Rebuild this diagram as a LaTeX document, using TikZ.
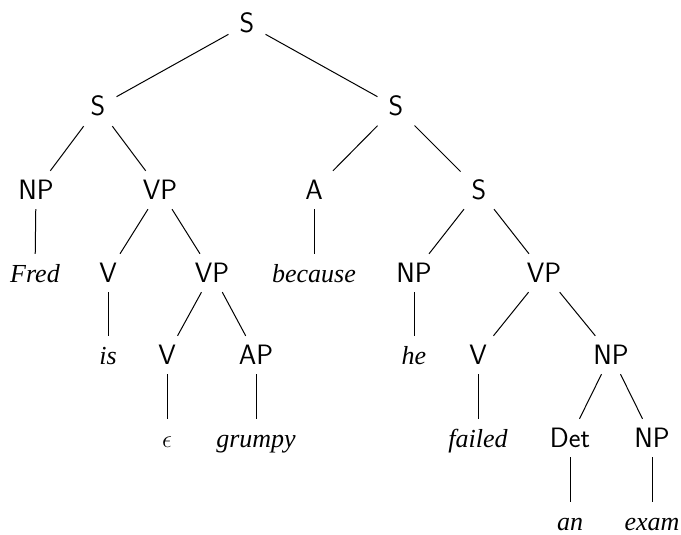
\documentclass[tikz,border=0pt]{standalone}
\usepackage{fontspec}
\newfontfamily\wordfont{Liberation Serif}
\begin{document}
\begin{tikzpicture}[x=1pt,y=-1pt,
  cat/.style={font=\sffamily\fontsize{28}{32}\selectfont, text height=18pt, text depth=0pt, inner ysep=10pt, inner xsep=11pt},
  word/.style={font=\wordfont\itshape\fontsize{26}{30}\selectfont, text height=18pt, text depth=0pt, inner ysep=10pt, inner xsep=11pt},
  edge/.style={draw=black, line width=1pt}]
\useasboundingbox (0,0) rectangle (681,535);
\node[cat] (r) at (247,24) {S};
\node[cat] (s1) at (98,107) {S};
\node[cat] (s2) at (396,107) {S};
\node[cat] (np1) at (36,190) {NP};
\node[cat] (vp1) at (160,190) {VP};
\node[cat] (a) at (314,190) {A};
\node[cat] (s3) at (479,190) {S};
\node[word] (fred) at (35,273) {Fred};
\node[cat] (v1) at (108,273) {V};
\node[cat] (vp2) at (212,273) {VP};
\node[word] (because) at (314,273) {because};
\node[cat] (np2) at (414,273) {NP};
\node[cat] (vp3) at (544,273) {VP};
\node[word] (is) at (108,355) {is};
\node[cat] (v2) at (167,355) {V};
\node[cat] (ap) at (256,355) {AP};
\node[word] (he) at (414,355) {he};
\node[cat] (v3) at (478,355) {V};
\node[cat] (np3) at (611,355) {NP};
\node[word] (eps) at (167,438) {$\epsilon$};
\node[word] (grumpy) at (256,438) {grumpy};
\node[word] (failed) at (478,438) {failed};
\node[cat] (det) at (570,438) {Det};
\node[cat] (np4) at (652,438) {NP};
\node[word] (an) at (570,521) {an};
\node[word] (exam) at (652,521) {exam};
\draw[edge] (r) -- (s1);
\draw[edge] (r) -- (s2);
\draw[edge] (s1) -- (np1);
\draw[edge] (s1) -- (vp1);
\draw[edge] (s2) -- (a);
\draw[edge] (s2) -- (s3);
\draw[edge] (np1) -- (fred);
\draw[edge] (vp1) -- (v1);
\draw[edge] (vp1) -- (vp2);
\draw[edge] (a) -- (because);
\draw[edge] (s3) -- (np2);
\draw[edge] (s3) -- (vp3);
\draw[edge] (v1) -- (is);
\draw[edge] (vp2) -- (v2);
\draw[edge] (vp2) -- (ap);
\draw[edge] (np2) -- (he);
\draw[edge] (vp3) -- (v3);
\draw[edge] (vp3) -- (np3);
\draw[edge] (v2) -- (eps);
\draw[edge] (ap) -- (grumpy);
\draw[edge] (v3) -- (failed);
\draw[edge] (np3) -- (det);
\draw[edge] (np3) -- (np4);
\draw[edge] (det) -- (an);
\draw[edge] (np4) -- (exam);
\end{tikzpicture}
\end{document}
